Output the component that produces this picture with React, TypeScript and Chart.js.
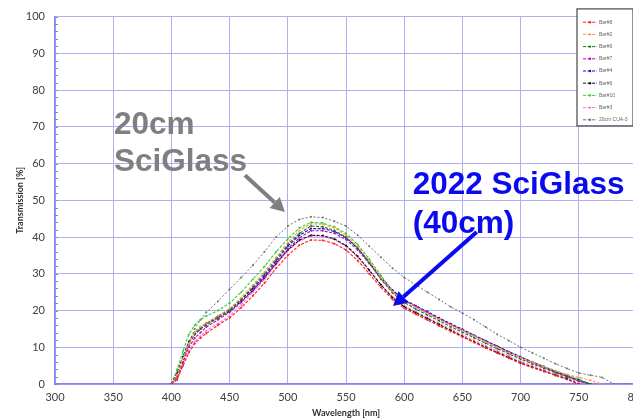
import React, { useEffect, useRef } from "react";
import { Chart, registerables } from "chart.js";

Chart.register(...registerables);

// Wavelength sample points [nm]
const wavelengths = [
  400, 405, 410, 415, 420, 425, 430,
  440, 450, 460, 470, 480, 490, 500, 510, 520, 530, 540, 550, 560, 570, 580, 590, 600,
  610, 620, 630, 640, 650, 660, 670, 680, 690, 700, 710, 720, 730, 740, 750, 760, 770, 780, 790, 800,
];

const seriesLabels = ["Bar#8", "Bar#2", "Bar#9", "Bar#7", "Bar#4", "Bar#6", "Bar#10", "Bar#3", "20cm CUA-3"];
const seriesColors = ["#ff2020", "#ff9a50", "#107a10", "#c000c8", "#1010c8", "#101010", "#30d030", "#ff70e0", "#707070"];

const bar8 = [0, 1.5, 5, 8.5, 11, 12.5, 13.8,
  16, 18, 20.8, 24, 27.5, 31.5, 35, 37.8, 39.2, 39.1, 38.2, 36.5, 33.6, 30, 26.3, 23, 20.6,
  19, 17.4, 15.8, 14.3, 12.8, 11.3, 9.8, 8.4, 7, 5.6, 4.5, 3.4, 2.3, 1.2, 0, null, null, null, null, null];
const bar2 = [0, 2.5, 7, 11, 14, 15.5, 16.5,
  18.5, 20.5, 23.5, 27, 30.5, 34.5, 38.5, 41.8, 43.6, 43.5, 42.5, 40.5, 37.5, 33.5, 29, 25.2, 22.6,
  20.8, 19.2, 17.6, 16, 14.5, 13, 11.5, 10, 8.6, 7.2, 5.9, 4.7, 3.6, 2.6, 1.8, 1, 0, null, null, null];
const bar9 = [0, 2.5, 7, 11, 13.5, 15, 16,
  18, 20, 23, 26.5, 30, 34, 38, 41, 43, 42.8, 41.8, 40, 37, 33, 28.5, 24.8, 22.2,
  20.4, 18.8, 17.2, 15.6, 14.1, 12.6, 11.1, 9.6, 8.2, 6.8, 5.5, 4.3, 3.1, 2, 1, 0, null, null, null, null];
const bar7 = [0, 2, 6, 10, 12.5, 14, 15.5,
  17.5, 19.5, 22.2, 25.5, 29, 33, 36.8, 39.8, 41.7, 41.7, 41, 39.3, 36.5, 32.8, 28.7, 25.2, 22.8,
  21.1, 19.5, 17.8, 16.2, 14.7, 13.1, 11.6, 10.1, 8.6, 7.2, 5.8, 4.5, 3.2, 2, 0.8, 0, null, null, null, null];
const bar4 = [0, 2.5, 7, 11, 13.5, 15, 16.5,
  18.5, 20.3, 23, 26, 29.5, 33.5, 37.5, 40.5, 42.3, 42.3, 41.5, 39.8, 37, 33.2, 29, 25.5, 23,
  21.3, 19.7, 18, 16.4, 14.9, 13.3, 11.8, 10.3, 8.8, 7.4, 6, 4.7, 3.4, 2.2, 1, 0, null, null, null, null];
const bar6 = [0, 3, 7.5, 11.5, 14, 15.5, 16.5,
  18, 19.8, 22.5, 25.5, 29, 32.8, 36.5, 39.2, 40.5, 40.4, 39.5, 37.7, 34.8, 31, 27, 23.5, 21,
  19.4, 17.8, 16.2, 14.6, 13, 11.5, 10, 8.6, 7.2, 5.8, 4.6, 3.5, 2.4, 1.4, 0, null, null, null, null, null];
const bar10 = [0, 4, 9, 13.5, 16, 17.5, 18.5,
  20, 22, 25, 28.5, 32, 36, 39.5, 42.5, 44, 43.8, 42.8, 41, 38, 34, 29.5, 25.5, 22.8,
  21, 19.3, 17.8, 16.2, 14.7, 13.2, 11.7, 10.2, 8.8, 7.3, 6, 4.8, 3.6, 2.4, 1.3, 0, null, null, null, null];
const bar3 = [0, 1.5, 5, 9, 11.5, 13, 14.5,
  16.5, 18.5, 21.5, 25, 28.5, 32.5, 36.3, 39, 40.3, 40.2, 39.3, 37.5, 34.6, 30.8, 27, 23.7, 21.3,
  19.7, 18.1, 16.5, 15, 13.4, 11.9, 10.4, 9, 7.6, 6.2, 5, 3.8, 2.7, 1.6, 0.5, 0, null, null, null, null];
const cua3 = [0, 1, 6, 11, 15, 17.5, 19.5,
  22.5, 25.8, 29, 32.3, 36, 40, 43, 44.8, 45.5, 45.3, 44.3, 43, 40.5, 37.5, 34.5, 31.5, 29,
  27, 25, 23, 21, 19.3, 17.5, 15.5, 13.5, 11.8, 10, 8.5, 7, 5.5, 4.2, 3, 2.4, 1.8, 0, 0, 0];

const seriesValues = [bar8, bar2, bar9, bar7, bar4, bar6, bar10, bar3, cua3];

const GRID = "#b0b0f0";
const AXIS = "#8484e8";
const FONT = "Lato, 'Open Sans', sans-serif";

function drawArrow(ctx: CanvasRenderingContext2D, x1: number, y1: number, x2: number, y2: number, color: string) {
  const ang = Math.atan2(y2 - y1, x2 - x1);
  const head = 14;
  const half = 7.5;
  const bx = x2 - head * Math.cos(ang);
  const by = y2 - head * Math.sin(ang);
  ctx.strokeStyle = color;
  ctx.fillStyle = color;
  ctx.lineWidth = 4;
  ctx.beginPath();
  ctx.moveTo(x1, y1);
  ctx.lineTo(bx, by);
  ctx.stroke();
  ctx.beginPath();
  ctx.moveTo(x2, y2);
  ctx.lineTo(bx + half * Math.sin(ang), by - half * Math.cos(ang));
  ctx.lineTo(bx - half * Math.sin(ang), by + half * Math.cos(ang));
  ctx.closePath();
  ctx.fill();
}

const minorTicksPlugin = {
  id: "minorTicks",
  afterDraw(chart: any) {
    const { ctx, scales } = chart;
    const y = scales.y;
    const left = scales.x.left;
    ctx.save();
    ctx.strokeStyle = AXIS;
    ctx.lineWidth = 1;
    for (let v = 0; v <= 100; v += 2) {
      const py = Math.round(y.getPixelForValue(v)) + 0.5;
      ctx.beginPath();
      ctx.moveTo(left, py);
      ctx.lineTo(left + 3, py);
      ctx.stroke();
    }
    ctx.restore();
  },
};

const notesPlugin = {
  id: "notes",
  afterDatasetsDraw(chart: any) {
    const { ctx, scales } = chart;
    const x = scales.x;
    const y = scales.y;
    ctx.save();
    ctx.font = "bold 31.5px 'Liberation Sans', Arial, sans-serif";
    ctx.textBaseline = "alphabetic";
    ctx.textAlign = "left";
    ctx.fillStyle = "#7f7f7f";
    ctx.fillText("20cm", x.getPixelForValue(350.7), y.getPixelForValue(68.1));
    ctx.fillText("SciGlass", x.getPixelForValue(350.7), y.getPixelForValue(57.9));
    drawArrow(ctx, x.getPixelForValue(463.2), y.getPixelForValue(56.8), x.getPixelForValue(497.6), y.getPixelForValue(46.8), "#7f7f7f");
    ctx.fillStyle = "#0a0af0";
    ctx.fillText("2022 SciGlass", x.getPixelForValue(607.3), y.getPixelForValue(51.75));
    ctx.fillText("(40cm)", x.getPixelForValue(607.3), y.getPixelForValue(41.2));
    drawArrow(ctx, x.getPixelForValue(662.3), y.getPixelForValue(41.4), x.getPixelForValue(590.4), y.getPixelForValue(21.2), "#0a0af0");
    ctx.restore();
  },
};

const legendBoxPlugin = {
  id: "legendBox",
  afterDraw(chart: any) {
    const { ctx, chartArea, data } = chart;
    const w = 56;
    const h = 117;
    const left = chartArea.right - 4 - w;
    const top = chartArea.top - 7.7;
    ctx.save();
    ctx.fillStyle = "#ffffff";
    ctx.fillRect(left, top, w, h);
    ctx.strokeStyle = "#555555";
    ctx.lineWidth = 1.3;
    ctx.strokeRect(left, top, w, h);
    ctx.font = "5px 'Liberation Sans', Arial, sans-serif";
    ctx.textBaseline = "middle";
    data.datasets.forEach((ds: any, i: number) => {
      const yy = top + 13.3 + i * 12.2;
      ctx.strokeStyle = ds.borderColor;
      ctx.lineWidth = 1;
      ctx.setLineDash([3, 1.5]);
      ctx.beginPath();
      ctx.moveTo(left + 6, yy);
      ctx.lineTo(left + 20, yy);
      ctx.stroke();
      ctx.setLineDash([]);
      ctx.fillStyle = ds.borderColor;
      ctx.beginPath();
      ctx.arc(left + 13, yy, 1.2, 0, Math.PI * 2);
      ctx.fill();
      ctx.fillStyle = "#666666";
      ctx.fillText(ds.label, left + 22, yy);
    });
    ctx.restore();
  },
};

export default function App() {
  const canvasRef = useRef<HTMLCanvasElement | null>(null);

  useEffect(() => {
    if (!canvasRef.current) return;
    const datasets = seriesValues.map((vals, i) => ({
      label: seriesLabels[i],
      data: wavelengths.map((w, j) => ({ x: w, y: vals[j] })),
      borderColor: seriesColors[i],
      backgroundColor: seriesColors[i],
      borderWidth: i === 8 ? 1 : 1.1,
      borderDash: i === 8 ? [2, 2] : [3, 1.5],
      pointRadius: 1,
      pointBorderWidth: 0,
      pointBackgroundColor: seriesColors[i],
      tension: 0,
      spanGaps: false,
    }));
    const chart = new Chart(canvasRef.current, {
      type: "line",
      data: { datasets },
      options: {
        animation: false,
        responsive: false,
        maintainAspectRatio: false,
        layout: { padding: { top: 13, right: 63, left: 0, bottom: 0 } },
        plugins: { legend: { display: false }, tooltip: { enabled: false } },
        scales: {
          x: {
            type: "linear",
            min: 300,
            max: 800,
            ticks: { stepSize: 50, color: "#404040", font: { family: FONT, size: 11 }, padding: 7 },
            grid: { color: GRID, lineWidth: 1, drawTicks: false },
            border: { color: AXIS, width: 1.5 },
            title: {
              display: true,
              text: "Wavelength [nm]",
              color: "#303030",
              font: { family: FONT, size: 9, weight: "bold" },
              padding: { top: 2, bottom: 1 },
            },
            afterFit: (s: any) => {
              s.height = 35;
            },
          },
          y: {
            min: 0,
            max: 100,
            ticks: { stepSize: 10, color: "#404040", font: { family: FONT, size: 11 }, padding: 10 },
            grid: { color: GRID, lineWidth: 1, drawTicks: false },
            border: { color: AXIS, width: 1.5 },
            title: {
              display: true,
              text: "Transmission [%]",
              color: "#303030",
              font: { family: FONT, size: 9, weight: "bold" },
              padding: { top: 15, bottom: 0 },
            },
            afterFit: (s: any) => {
              s.width = 55;
            },
          },
        },
      },
      plugins: [minorTicksPlugin, notesPlugin, legendBoxPlugin],
    } as any);
    return () => chart.destroy();
  }, []);

  return (
    <div style={{ position: "fixed", left: 0, top: 0, width: 633, height: 419, overflow: "hidden", background: "#fff" }}>
      <canvas ref={canvasRef} width={700} height={419} style={{ display: "block" }} />
    </div>
  );
}
